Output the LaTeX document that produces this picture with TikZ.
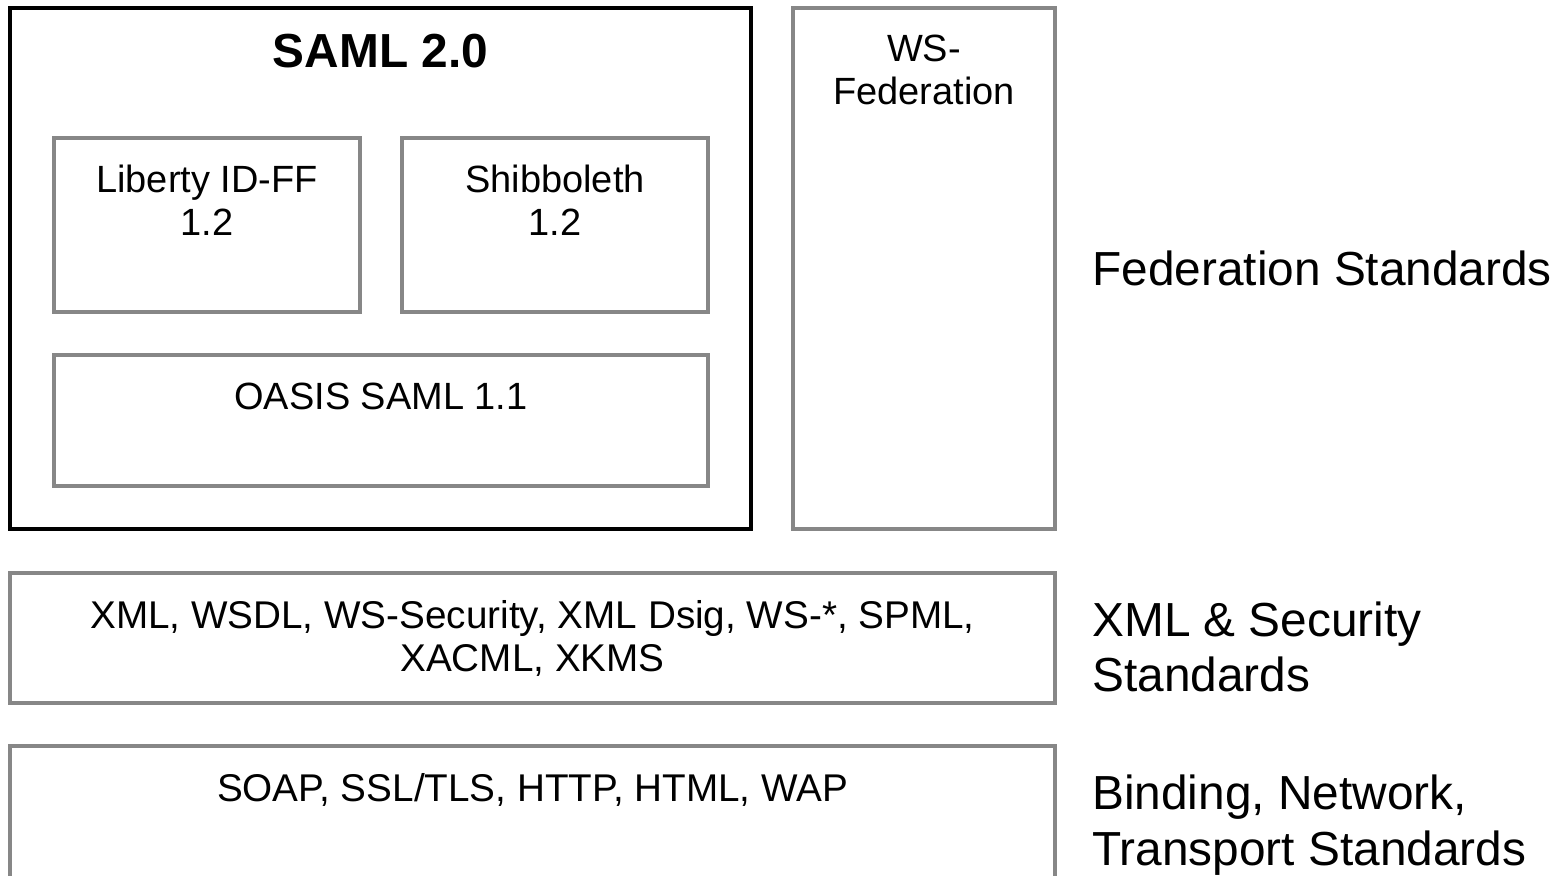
\documentclass[tikz,border=0pt]{standalone}
\usepackage{fontspec}
\setmainfont{Liberation Sans}
\usetikzlibrary{positioning}

\begin{document}
\begin{tikzpicture}[
    graybox/.style={draw=black!47, line width=0.9pt, inner sep=0pt},
    blackbox/.style={draw=black, line width=1.3pt, inner sep=0pt},
    small/.style={font=\fontsize{10.8}{12.3}\selectfont, align=center, inner sep=0pt, anchor=north},
    big/.style={font=\fontsize{13.6}{15.8}\selectfont, align=left, inner sep=0pt}
  ]
   \useasboundingbox (0,0) rectangle (15.6,-8.75);
   % boxes
   \node[blackbox, minimum width=7.41cm, minimum height=5.21cm] (saml) at (3.805,-2.685) {};
   \node[graybox, minimum width=3.06cm, minimum height=1.74cm] (lib) at (2.07,-2.25) {};
   \node[graybox, minimum width=3.06cm, minimum height=1.74cm] (shib) at (5.55,-2.25) {};
   \node[graybox, minimum width=6.54cm, minimum height=1.31cm] (oasis) at (3.81,-4.205) {};
   \node[graybox, minimum width=2.62cm, minimum height=5.21cm] (wsfed) at (9.24,-2.685) {};
   \node[graybox, minimum width=10.45cm, minimum height=1.30cm] (xml) at (5.325,-6.38) {};
   \node[graybox, minimum width=10.45cm, minimum height=1.36cm] (soap) at (5.325,-8.14) {};
   % box texts
   \node[small, font=\fontsize{13.6}{15.8}\selectfont\bfseries] (samlT) at ([yshift=-0.28cm]saml.north) {SAML 2.0};
   \node[small] (libT) at ([yshift=-0.28cm]lib.north) {Liberty ID-FF\\1.2};
   \node[small] (shibT) at ([yshift=-0.28cm]shib.north) {Shibboleth\\1.2};
   \node[small] (oasisT) at ([yshift=-0.29cm]oasis.north) {OASIS SAML 1.1};
   \node[small] (wsfedT) at ([yshift=-0.28cm]wsfed.north) {WS-\\Federation};
   \node[small, font=\fontsize{11}{12.4}\selectfont] (xmlT) at ([yshift=-0.28cm]xml.north) {XML, WSDL, WS-Security, XML Dsig, WS-*, SPML,\\XACML, XKMS};
   \node[small, font=\fontsize{11}{12.4}\selectfont] (soapT) at ([yshift=-0.28cm]soap.north) {SOAP, SSL/TLS, HTTP, HTML, WAP};
   % layer labels
   \node[big, right=0.35cm of wsfed] (fedL) {Federation Standards};
   \node[big, right=0.35cm of xml, yshift=-0.09cm] (xmlL) {XML \& Security\\Standards};
   \node[big, right=0.35cm of soap, yshift=-0.11cm] (soapL) {Binding, Network,\\Transport Standards};
\end{tikzpicture}
\end{document}
